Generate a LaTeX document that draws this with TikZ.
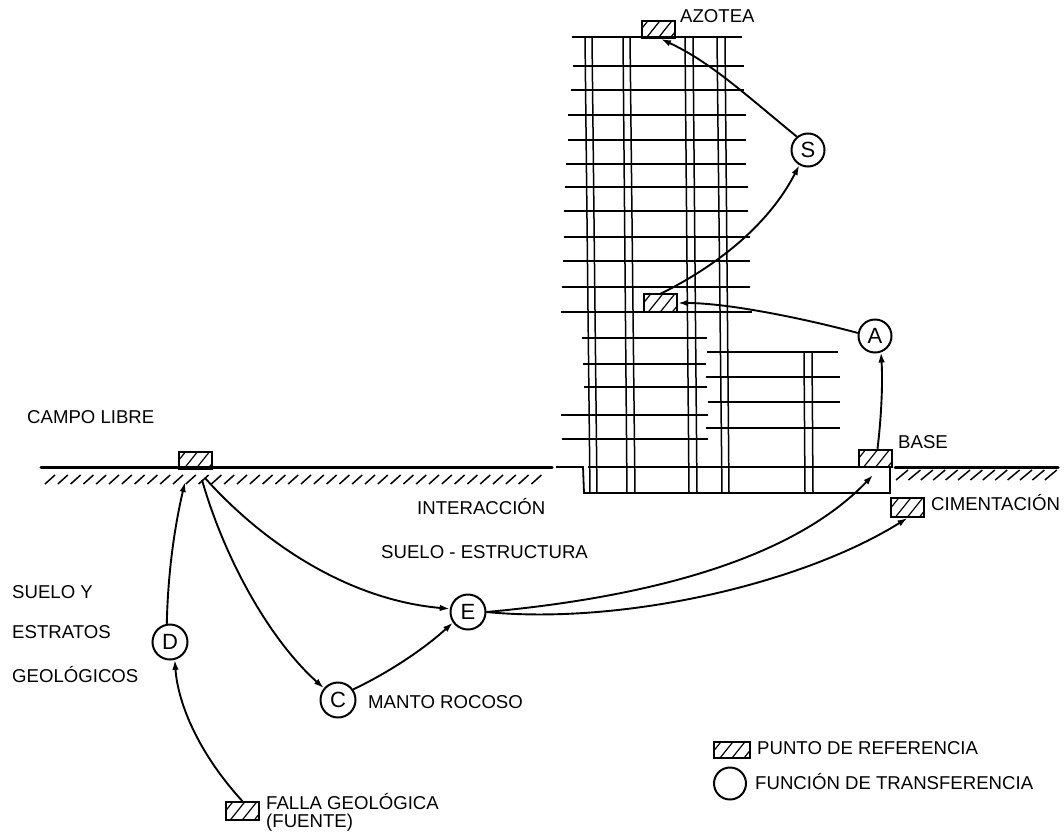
\documentclass[tikz,border=0pt]{standalone}
\usepackage{fontspec}
\setmainfont{Liberation Sans}
\usetikzlibrary{arrows.meta}
\tikzset{
  x=1pt,y=-1pt,
  label text/.style={anchor=west,inner sep=0pt,font=\fontsize{18.6}{20}\selectfont},
  refbox/.style={draw=black,line width=2pt,minimum width=33pt,minimum height=17.5pt,inner sep=0pt,
    path picture={
      \foreach \k in {-36,-24,...,36}
        \draw[line width=1.2pt] ([xshift=\k pt]path picture bounding box.south) -- ++(16pt,20pt);
    }},
  func/.style={circle,draw=black,line width=2pt,minimum size=33pt,inner sep=0pt,font=\fontsize{22}{23}\selectfont},
  conn/.style={line width=1.9pt,-{Latex[length=10pt,width=6.5pt]}},
  floorline/.style={line width=1.8pt},
  columnline/.style={line width=1.5pt},
  groundline/.style={line width=3pt,line cap=round},
  groundhatch/.style={line width=1.5pt},
}
\begin{document}
\begin{tikzpicture}
\useasboundingbox (0,0) rectangle (1064,835);
% floors of the tower
\foreach \a/\b/\y in {572/742/37,573/744/66,571/744/90,568/746/115,568/746/140,566/746/164,565/748/187,564/748/211,564/750/237,563/750/261,562/750/287,561/752/312,582/707/338,583/706/364,584/707/387,561/708/415,562/708/439,707/838/352,706/840/377,708/840/402,706/840/428}
  \draw[floorline] (\a,\y) -- (\b,\y);
% columns
\foreach \a/\b in {585/590,592/597,623/627,630/635,685/689,693/697,717/722,725/729}
  \draw[columnline] (\a,37) -- (\b,493);
\foreach \a in {804,812}
  \draw[columnline] (\a,352) -- (\a+1,493);
% ground and foundation
\draw[groundline] (41,467) -- (552,467);
\draw[groundline] (895,467) -- (1058,467);
\draw[floorline] (556,467) -- (583,467) -- (584,493) -- (890,493) -- (890,467);
\draw[floorline] (588,467) -- (890,467);
\foreach \x in {45,57.8,...,540}
  \draw[groundhatch] (\x,484) -- (\x+10,475);
\foreach \x in {896,908.4,...,1050}
  \draw[groundhatch] (\x,480) -- (\x+12,470);
% reference boxes
\node[refbox] (azotea) at (658,29.5) {};
\node[refbox] (mid) at (660.5,303) {};
\node[refbox] (base) at (875.5,458.5) {};
\node[refbox,minimum height=19pt] (cim) at (907.5,507.5) {};
\node[refbox] (free) at (195.5,460.5) {};
\node[refbox] (falla) at (242.5,811) {};
\node[refbox,minimum width=36pt,minimum height=16pt] (legendbox) at (732,750) {};
% transfer functions
\node[func] (S) at (808,150) {S};
\node[func] (A) at (875,336) {A};
\node[func,minimum size=35pt] (D) at (170,642) {D};
\node[func,minimum size=35pt] (C) at (338,700) {C};
\node[func,minimum size=35pt] (E) at (468,612) {E};
\node[func,minimum size=32pt] (legendcircle) at (730,783.5) {};
% ports below the free-field box
\coordinate (freein) at (185,482);
\coordinate (freeoutC) at (202,480);
\coordinate (freeoutE) at (205,478);
\coordinate (basein) at (873,475);
\coordinate (azoin) at (661,39);
\coordinate (midout) at (660,294);
% connectors
\draw[conn] (falla.north) .. controls (200,755) and (178,705) .. (D.-75);
\draw[conn] (D.100) .. controls (168,570) and (175,525) .. (freein);
\draw[conn] (freeoutC) .. controls (225,560) and (270,640) .. (C.140);
\draw[conn] (freeoutE) .. controls (265,545) and (350,600) .. (E.170);
\draw[conn] (C.35) .. controls (390,672) and (425,648) .. (E.215);
\draw[conn] (E.east) .. controls (640,598) and (790,562) .. (basein);
\draw[conn] (E.east) .. controls (620,625) and (800,585) .. (cim.south);
\draw[conn] ([xshift=2pt]base.north) .. controls (881,420) and (883,385) .. (A.-70);
\draw[conn] (A.170) .. controls (810,320) and (730,303) .. (mid.east);
\draw[conn] (midout) .. controls (705,272) and (765,232) .. (S.240);
\draw[conn] (S.130) .. controls (740,90) and (710,62) .. (azoin);
% labels
\node[label text] (t1) at (680,16) {AZOTEA};
\node[label text] (t2) at (898,442) {BASE};
\node[label text] (t3) at (931,503) {CIMENTACIÓN};
\node[label text] (t4) at (27,417) {CAMPO LIBRE};
\node[label text] (t5) at (417,507) {INTERACCIÓN};
\node[label text] (t6) at (381,552) {SUELO - ESTRUCTURA};
\node[label text] (t7) at (12,592) {SUELO Y};
\node[label text] (t8) at (12,632) {ESTRATOS};
\node[label text] (t9) at (12,675) {GEOLÓGICOS};
\node[label text] (t10) at (368,702) {MANTO ROCOSO};
\node[label text] (t11) at (266,802) {FALLA GEOLÓGICA};
\node[label text] (t12) at (266,823) {(FUENTE)};
\node[label text] (t13) at (757,748) {PUNTO DE REFERENCIA};
\node[label text] (t14) at (755,782) {FUNCIÓN DE TRANSFERENCIA};
\end{tikzpicture}
\end{document}
